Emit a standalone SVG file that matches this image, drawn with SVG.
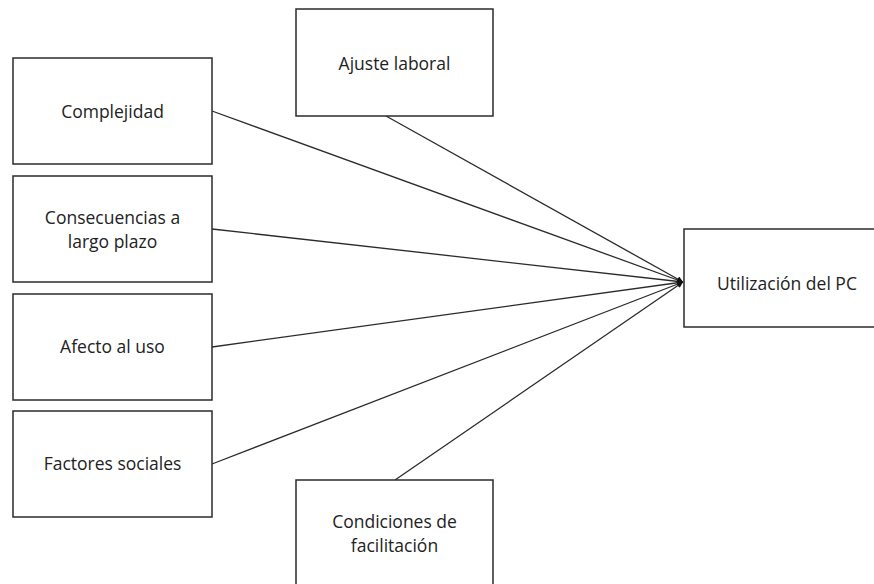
<svg xmlns="http://www.w3.org/2000/svg" width="874" height="584" viewBox="0 0 874 584">
  <style>
    .box { fill: #ffffff; stroke: #2b2b2b; stroke-width: 1.5; }
    .lbl { font-family: "Open Sans", "Noto Sans", sans-serif; font-size: 17.5px; fill: #222222; text-anchor: middle; }
    .conn { stroke: #2b2b2b; stroke-width: 1.3; fill: none; marker-end: url(#arrow); }
  </style>
  <defs>
    <marker id="arrow" viewBox="0 0 10 10" refX="10" refY="5" markerWidth="6" markerHeight="6" markerUnits="userSpaceOnUse" orient="auto">
      <path d="M0,0 L10,5 L0,10 z" fill="#111111"/>
    </marker>
  </defs>
  <rect width="874" height="584" fill="#ffffff"/>

  <g id="connectors">
    <line class="conn" x1="212" y1="111" x2="683" y2="282"/>
    <line class="conn" x1="212" y1="229" x2="683" y2="282"/>
    <line class="conn" x1="212" y1="347" x2="683" y2="282"/>
    <line class="conn" x1="212" y1="464" x2="683" y2="282"/>
    <line class="conn" x1="386" y1="116" x2="683" y2="282"/>
    <line class="conn" x1="395" y1="480" x2="683" y2="282"/>
  </g>

  <g id="complejidad">
    <rect class="box" x="13" y="58" width="199" height="106"/>
    <text class="lbl" x="112.5" y="118">Complejidad</text>
  </g>
  <g id="consecuencias">
    <rect class="box" x="13" y="176" width="199" height="106"/>
    <text class="lbl" x="112.5" y="224">Consecuencias a</text>
    <text class="lbl" x="112.5" y="248">largo plazo</text>
  </g>
  <g id="afecto">
    <rect class="box" x="13" y="294" width="199" height="106"/>
    <text class="lbl" x="112.5" y="353">Afecto al uso</text>
  </g>
  <g id="factores">
    <rect class="box" x="13" y="411" width="199" height="106"/>
    <text class="lbl" x="112.5" y="470">Factores sociales</text>
  </g>
  <g id="ajuste">
    <rect class="box" x="296" y="9" width="197" height="107"/>
    <text class="lbl" x="394.5" y="70">Ajuste laboral</text>
  </g>
  <g id="condiciones">
    <rect class="box" x="296" y="480" width="197" height="110"/>
    <text class="lbl" x="394.5" y="528">Condiciones de</text>
    <text class="lbl" x="394.5" y="552">facilitación</text>
  </g>
  <g id="utilizacion">
    <rect class="box" x="684" y="229" width="200" height="98"/>
    <text class="lbl" x="787" y="290">Utilización del PC</text>
  </g>
</svg>
